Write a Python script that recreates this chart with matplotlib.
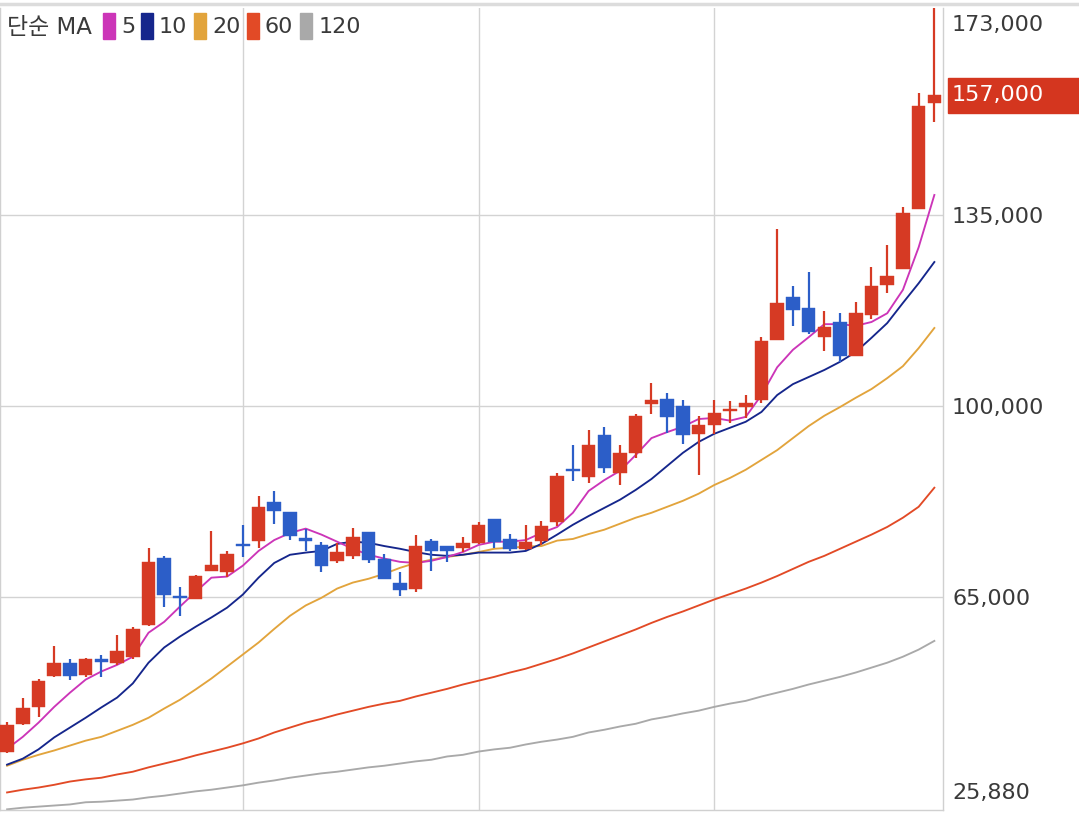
import matplotlib
matplotlib.use("Agg")
import matplotlib.pyplot as plt
from matplotlib.patches import Rectangle
from matplotlib.lines import Line2D

plt.rcParams['font.family'] = ['DejaVu Sans', 'Noto Sans CJK KR']

# daily candles (KRW)
opens = [36600, 41700, 44700, 50500, 52900, 50700, 53500, 52900, 54000, 59900,
         72100, 65200, 64600, 69800, 69600, 74700, 75300, 82400, 80600, 75600,
         74500, 71600, 72500, 76900, 72000, 67600, 66500, 75300, 74300, 74000,
         74900, 79300, 75600, 73800, 75300, 78700, 88500, 87000, 94700, 87700,
         91400, 100400, 101300, 100000, 94900, 96500, 99100, 99800, 101100, 112100,
         120000, 118000, 112600, 115400, 109200, 116700, 122200, 125100, 136100, 155500]
highs = [42100, 46500, 50000, 56000, 53500, 53800, 54400, 58000, 59500, 74000,
         72500, 66800, 69000, 77100, 73400, 78200, 83500, 84400, 80600, 77500,
         75100, 74900, 77600, 76900, 72900, 69600, 76400, 75600, 74300, 76000,
         78700, 79300, 76500, 78200, 78900, 87700, 92900, 95600, 96200, 92900,
         98500, 104200, 102400, 101100, 98200, 101100, 100900, 102000, 112600, 132400,
         122000, 124600, 117400, 117000, 119100, 125500, 129500, 136500, 157400, 173000]
lows = [36400, 41500, 43000, 50200, 49800, 50300, 50300, 52400, 53600, 59700,
        63200, 61500, 64500, 69800, 68700, 72300, 74000, 78400, 75400, 73400,
        69600, 71200, 72000, 71200, 68300, 65200, 65900, 69800, 71400, 73200,
        74700, 74000, 73400, 73600, 74500, 78000, 86300, 85900, 87700, 85500,
        90500, 98500, 95100, 93000, 87400, 94900, 96900, 97800, 100600, 112100,
        114700, 113200, 110100, 108100, 109200, 115900, 120700, 125100, 136100, 152000]
closes = [41400, 44500, 49600, 52900, 50500, 53500, 53100, 55100, 59100, 71400,
          65400, 64800, 68800, 70900, 72900, 74300, 81500, 80800, 76200, 75300,
          70700, 73200, 76000, 71800, 68300, 66300, 74300, 73400, 73400, 74900,
          78200, 75100, 73800, 75100, 78000, 87200, 88100, 92900, 88600, 91400,
          98200, 101100, 98000, 94700, 96500, 98700, 99500, 100600, 111900, 118900,
          117600, 113600, 114500, 109200, 117000, 122000, 123800, 135400, 155000, 157000]

# moving averages
ma5 = [37100, 39300, 41900, 44800, 47400, 49800, 51300, 52500, 54000, 58400,
       60400, 63200, 65900, 68500, 68700, 70700, 73400, 75400, 76700, 77500,
       76400, 75100, 73800, 72700, 72000, 71400, 71200, 71600, 72300, 73200,
       74500, 75100, 75100, 75400, 76700, 77800, 80400, 84400, 86400, 88100,
       91000, 94100, 95200, 96200, 97600, 97800, 97300, 98000, 102000, 107100,
       110300, 112600, 115000, 115000, 114700, 115400, 117000, 121300, 129100, 138700]
ma10 = [34200, 35300, 37000, 39200, 41000, 42800, 44700, 46500, 49100, 52900,
        55700, 57700, 59500, 61200, 63000, 65400, 68500, 71200, 72700, 73100,
        73400, 74700, 75100, 74900, 74300, 73800, 73200, 72700, 72500, 72700,
        73100, 73100, 73100, 73400, 74700, 76400, 78200, 79800, 81300, 82800,
        84600, 86600, 89000, 91400, 93400, 94900, 96000, 97100, 98900, 102000,
        104000, 105300, 106600, 108100, 109900, 112500, 115200, 118900, 122500, 126400]
ma20 = [34000, 35100, 36000, 36800, 37700, 38600, 39300, 40400, 41500, 42800,
        44500, 46100, 48000, 50000, 52200, 54400, 56600, 59100, 61500, 63400,
        64800, 66500, 67600, 68300, 69200, 70300, 71200, 71800, 72300, 72700,
        73200, 73800, 74000, 74200, 74300, 75300, 75600, 76500, 77300, 78400,
        79500, 80400, 81500, 82600, 83900, 85500, 86800, 88300, 90100, 91900,
        94100, 96300, 98200, 99800, 101500, 103100, 105100, 107300, 110600, 114300]
ma60 = [29100, 29600, 30000, 30500, 31100, 31500, 31800, 32400, 32900, 33700,
        34400, 35100, 35900, 36600, 37300, 38100, 39000, 40100, 41000, 41900,
        42600, 43400, 44100, 44800, 45400, 45900, 46700, 47400, 48100, 48900,
        49600, 50300, 51100, 51800, 52700, 53600, 54600, 55700, 56800, 57900,
        59000, 60200, 61300, 62300, 63400, 64500, 65500, 66500, 67600, 68800,
        70100, 71400, 72500, 73800, 75100, 76400, 77800, 79500, 81500, 85000]
ma120 = [26000, 26300, 26500, 26700, 26900, 27300, 27400, 27600, 27800, 28200,
         28500, 28900, 29300, 29600, 30000, 30400, 30900, 31300, 31800, 32200,
         32600, 32900, 33300, 33700, 34000, 34400, 34800, 35100, 35700, 36000,
         36600, 37000, 37300, 37900, 38400, 38800, 39300, 40100, 40600, 41200,
         41700, 42500, 43000, 43600, 44100, 44800, 45400, 45900, 46700, 47400,
         48100, 48900, 49600, 50300, 51100, 52000, 52900, 54000, 55300, 56900]

ma_names = ["5", "10", "20", "60", "120"]
ma_colors = ["#cc35b8", "#15268c", "#e2a43c", "#e24a26", "#a9a9a9"]
grid_ticks = [65000, 100000, 135000]
y_min, y_max = 25880, 173000
last_price = 157000

up_col = "#d63a24"
down_col = "#2c5ec8"

fig = plt.figure(figsize=(10.79, 8.15), dpi=100)
ax = fig.add_axes([0, 5 / 815, 943 / 1079, 802 / 815])

x = list(range(len(opens)))

# grid
for g in grid_ticks:
    ax.axhline(g, color="#d3d3d3", lw=1, zorder=0)
for gx in [15, 30, 45]:
    ax.axvline(gx, color="#d3d3d3", lw=1, zorder=0)

# moving averages (long ones behind)
ma_all = [ma5, ma10, ma20, ma60, ma120]
for vals, c in list(zip(ma_all, ma_colors))[::-1]:
    ax.plot(x, vals, color=c, lw=1.35, zorder=2)

# candles
for i in x:
    o, h, l, c = opens[i], highs[i], lows[i], closes[i]
    col = up_col if c >= o else down_col
    ax.vlines(i, l, h, color=col, lw=1.6, zorder=3)
    bottom = min(o, c)
    height = max(abs(c - o), 400)
    ax.bar(i, height, bottom=bottom, width=0.86, color=col, edgecolor=col, lw=0.3, zorder=4)

ax.set_xlim(-0.45, 59.55)
ax.set_ylim(y_min, y_max)
ax.set_xticks([])
ax.set_yticks(grid_ticks)
ax.yaxis.tick_right()
ax.tick_params(axis="y", length=0, pad=6.5, labelsize=16, labelcolor="#3a3a3a")
ax.set_yticklabels([f"{v:,}" for v in grid_ticks])
ax.spines["top"].set_visible(False)
for s in ["left", "right", "bottom"]:
    ax.spines[s].set_color("#d0d0d0")
    ax.spines[s].set_linewidth(1)

# min / max labels
ax.annotate(f"{y_max:,}", xy=(1, y_max), xycoords=("axes fraction", "data"),
            xytext=(6.5, -12.5), textcoords="offset points", va="center",
            fontsize=16, color="#3a3a3a")
ax.annotate(f"{y_min:,}", xy=(1, y_min), xycoords=("axes fraction", "data"),
            xytext=(6.5, 12.2), textcoords="offset points", va="center",
            fontsize=16, color="#3a3a3a")

# current price tag
fig.patches.append(Rectangle((948 / 1079, (815 - 113) / 815), 131 / 1079, 35 / 815,
                             transform=fig.transFigure, color="#d4361f", zorder=-1))
ax.annotate(f"{last_price:,}", xy=(1, last_price), xycoords=("axes fraction", "data"),
            xytext=(6.5, 0), textcoords="offset points", va="center",
            fontsize=16, color="white", zorder=6, annotation_clip=False)

# top border
fig.lines.append(Line2D([0, 1], [1 - 4 / 815, 1 - 4 / 815], transform=fig.transFigure,
                        color="#dcdcdc", lw=2.5))

# legend
ly = 1 - 27 / 815
fig.text(7 / 1079, ly, "단순 MA", fontsize=16.5, color="#3a3a3a", va="center")
rect_x = [103, 141, 194, 247, 300]
text_x = [121, 159, 212, 265, 319]
for name, c, rx, tx in zip(ma_names, ma_colors, rect_x, text_x):
    fig.patches.append(Rectangle((rx / 1079, 1 - 39 / 815), 12 / 1079, 26 / 815,
                                 transform=fig.transFigure, color=c))
    fig.text(tx / 1079, ly, name, fontsize=16, color="#3a3a3a", va="center")

fig.savefig("out.png", dpi=100)
